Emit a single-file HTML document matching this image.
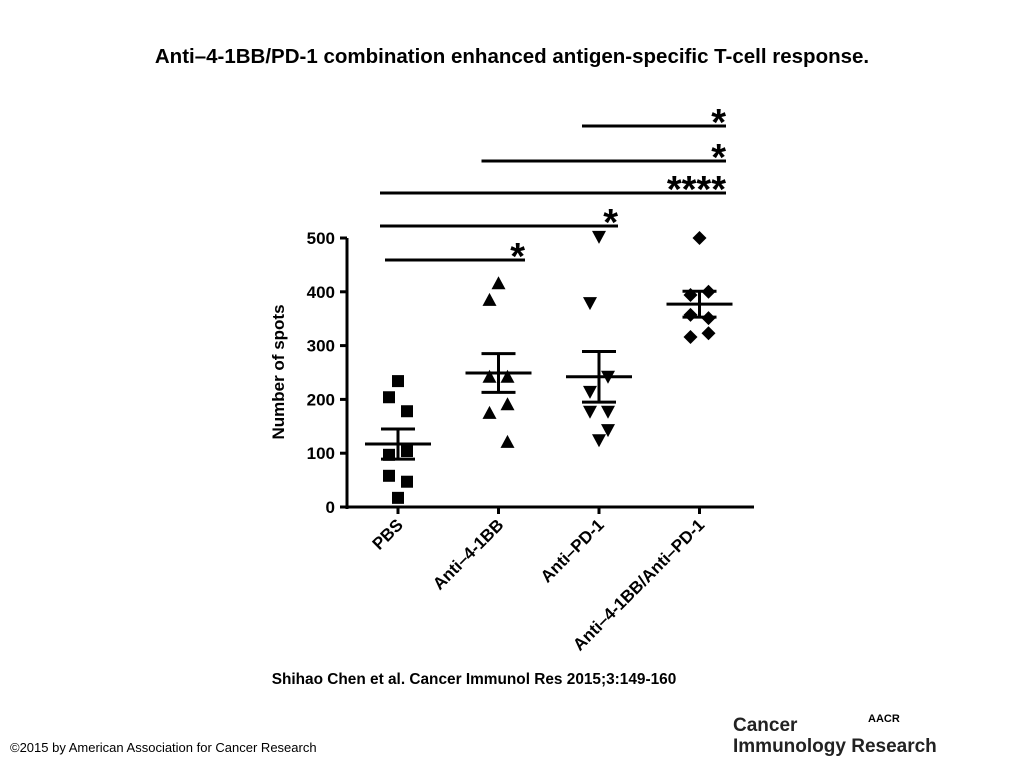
<!DOCTYPE html>
<html><head><meta charset="utf-8"><style>
body{margin:0;background:#fff;width:1024px;height:768px;overflow:hidden;font-family:"Liberation Sans",sans-serif}
</style></head><body>
<svg width="1024" height="768" viewBox="0 0 1024 768" font-family="Liberation Sans, sans-serif">
<text x="512" y="63" text-anchor="middle" font-size="20.5" font-weight="bold">Anti–4-1BB/PD-1 combination enhanced antigen-specific T-cell response.</text>
<g id="chart"></g>
<text x="474" y="684" text-anchor="middle" font-size="15.4" font-weight="bold">Shihao Chen et al. Cancer Immunol Res 2015;3:149-160</text>
<text x="10" y="752" font-size="13">©2015 by American Association for Cancer Research</text>
<text x="868" y="722" font-size="11" font-weight="bold">AACR</text>
<text x="733" y="731" font-size="19" font-weight="bold" fill="#222">Cancer</text>
<text x="733" y="752" font-size="19" font-weight="bold" fill="#222">Immunology Research</text>
</svg>
<script>
const categories=["PBS","Anti–4-1BB","Anti–PD-1","Anti–4-1BB/Anti–PD-1"];
const pbs=[234,204,178,97,104,58,47,17];
const a41bb=[416,385,242,242,191,175,121];
const apd1=[502,379,242,214,177,177,143,124];
const combo=[500,394,400,357,351,316,323];
const means=[117,249,242,377];
const sems=[28,36,47,24];
const yTicks=[0,100,200,300,400,500];
const sigBars=[[2,4,"*"],[1,4,"*"],[0,4,"****"],[0,3,"*"],[0,1,"*"]];
const series=[pbs,a41bb,apd1,combo];
const shapes=["square","up","down","diamond"];
const NS="http://www.w3.org/2000/svg";
const g=document.getElementById("chart");
function y(v){return 507-v*0.538;}
function x(i){return 398+i*100.5;}
function mk(t,a){const e=document.createElementNS(NS,t);for(const k in a)e.setAttribute(k,a[k]);g.appendChild(e);return e;}
let e;
e=mk("line",{x1:347,y1:238,x2:347,y2:509,stroke:"#000","stroke-width":3});


e=mk("line",{x1:345,y1:507,x2:754,y2:507,stroke:"#000","stroke-width":3});


yTicks.forEach(v=>{
 e=mk("line",{x1:340,y1:y(v),x2:347,y2:y(v),stroke:"#000","stroke-width":3});
 
 
 e=mk("text",{x:335,y:y(v)+6,"text-anchor":"end","font-size":17,"font-weight":"bold"});e.textContent=v;
 
 
});
e=mk("text",{x:284,y:372,"text-anchor":"middle","font-size":17,"font-weight":"bold",transform:"rotate(-90 284 372)"});e.textContent="Number of spots";


categories.forEach((c,i)=>{
 e=mk("line",{x1:x(i),y1:507,x2:x(i),y2:514,stroke:"#000","stroke-width":3});
 
 
 const tx=x(i)+6,ty=526;
 e=mk("text",{x:tx,y:ty,"text-anchor":"end","font-size":17,"font-weight":"bold",transform:`rotate(-45 ${tx} ${ty})`});e.textContent=c;
 
 
});
const jit=[0,-9,9,-9,9,-9,9,0];
series.forEach((arr,i)=>{
 arr.forEach((v,j)=>{
  const cx=x(i)+jit[j%8];
  const cy=y(v),s=7;let p;
  if(shapes[i]=="square")p=mk("rect",{x:cx-6,y:cy-6,width:12,height:12,fill:"#000"});
  else if(shapes[i]=="up")p=mk("polygon",{points:`${cx},${cy-s} ${cx+s},${cy+s-1} ${cx-s},${cy+s-1}`,fill:"#000"});
  else if(shapes[i]=="down")p=mk("polygon",{points:`${cx-s},${cy-s+1} ${cx+s},${cy-s+1} ${cx},${cy+s}`,fill:"#000"});
  else p=mk("polygon",{points:`${cx},${cy-s} ${cx+s},${cy} ${cx},${cy+s} ${cx-s},${cy}`,fill:"#000"});
  
  
 });
 const m=means[i],se=sems[i],c=x(i);
 e=mk("line",{x1:c-33,y1:y(m),x2:c+33,y2:y(m),stroke:"#000","stroke-width":3});
 
 
 e=mk("line",{x1:c,y1:y(m+se),x2:c,y2:y(m-se),stroke:"#000","stroke-width":3});
 
 
 [m+se,m-se].forEach(v=>{e=mk("line",{x1:c-17,y1:y(v),x2:c+17,y2:y(v),stroke:"#000","stroke-width":3});
 
 });
});
const barYs=[126,161,193,226,260];
sigBars.forEach((b,k)=>{
 const xe=b[1]===1?525:(b[1]===3?618:726);
 const xs=b[0]===0?(k===4?385:380):x(b[0])-17;
 e=mk("line",{x1:xs,y1:barYs[k],x2:xe,y2:barYs[k],stroke:"#000","stroke-width":3});
 
 
 e=mk("text",{x:xe,y:barYs[k]+9,"text-anchor":"end","font-size":38,"font-weight":"bold"});e.textContent=b[2];
 
 
});
</script>
</body></html>
